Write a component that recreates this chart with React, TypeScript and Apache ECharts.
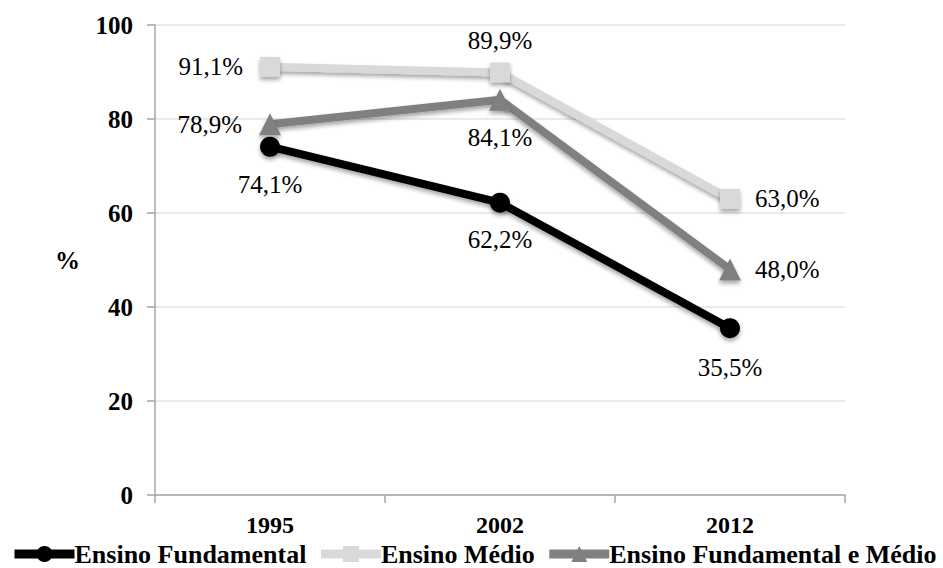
import React, { useEffect, useRef } from "react";
import * as echarts from "echarts";

const years = ["1995", "2002", "2012"];
const fundamental = [74.1, 62.2, 35.5];
const medio = [91.1, 89.9, 63.0];
const fundamentalMedio = [78.9, 84.1, 48.0];

const FONT = "Times New Roman, Liberation Serif, DejaVu Serif, serif";

const fmt = (v: number) => v.toFixed(1).replace(".", ",") + "%";

export default function App() {
  const ref = useRef<HTMLDivElement>(null);

  useEffect(() => {
    if (!ref.current) return;
    const chart = echarts.init(ref.current, null, { renderer: "svg" });

    const labelStyle = { fontFamily: FONT, fontSize: 25, color: "#000" };
    const shadow = {
      shadowColor: "rgba(0,0,0,0.35)",
      shadowBlur: 4,
      shadowOffsetY: 3,
    };

    const mkData = (vals: number[], positions: string[], distances: number[]) =>
      vals.map((v, i) => ({
        value: v,
        label: {
          show: true,
          position: positions[i],
          distance: distances[i],
          formatter: () => fmt(v),
          ...labelStyle,
        },
      }));

    chart.setOption({
      animation: false,
      grid: { left: 155, right: 98, top: 25, bottom: 73 },
      legend: {
        bottom: 1,
        left: 10,
        width: 933,
        padding: 0,
        itemWidth: 60,
        itemHeight: 20,
        itemGap: 10,
        lineStyle: { width: 9 },
        textStyle: {
          fontFamily: FONT,
          fontSize: 26,
          lineHeight: 22,
          fontWeight: "bold",
          color: "#000",
          padding: [0, 0, 0, -5],
        },
        data: ["Ensino Fundamental", "Ensino Médio", "Ensino Fundamental e Médio"],
      },
      xAxis: {
        type: "category",
        data: years,
        boundaryGap: true,
        axisLine: { lineStyle: { color: "#a6a6a6", width: 1.5 } },
        axisTick: { show: true, length: 8, lineStyle: { color: "#a6a6a6", width: 1.5 } },
        axisLabel: {
          margin: 20,
          lineHeight: 20,
          fontFamily: FONT,
          fontSize: 24,
          fontWeight: "bold",
          color: "#000",
        },
      },
      yAxis: {
        type: "value",
        min: 0,
        max: 100,
        interval: 20,
        name: "%",
        nameLocation: "middle",
        nameRotate: 0,
        nameGap: 75,
        nameTextStyle: { fontFamily: FONT, fontSize: 25, fontWeight: "bold", color: "#000" },
        axisLine: { show: true, lineStyle: { color: "#a6a6a6", width: 1.5 } },
        axisTick: { show: true, length: 8, lineStyle: { color: "#a6a6a6", width: 1.5 } },
        splitLine: { lineStyle: { color: "#e3e3e3", width: 1.5 } },
        axisLabel: {
          margin: 22,
          fontFamily: FONT,
          fontSize: 25,
          fontWeight: "bold",
          color: "#000",
        },
      },
      series: [
        {
          name: "Ensino Médio",
          type: "line",
          symbol: "rect",
          symbolSize: 20,
          z: 2,
          itemStyle: { color: "#d9d9d9", ...shadow },
          lineStyle: { color: "#d9d9d9", width: 8, ...shadow },
          data: mkData(medio, ["left", "top", "right"], [17, 9, 15]),
        },
        {
          name: "Ensino Fundamental e Médio",
          type: "line",
          symbol: "triangle",
          symbolSize: 22,
          z: 3,
          itemStyle: { color: "#808080", ...shadow },
          lineStyle: { color: "#808080", width: 8, ...shadow },
          data: mkData(fundamentalMedio, ["left", "bottom", "right"], [17, 14, 14]),
        },
        {
          name: "Ensino Fundamental",
          type: "line",
          symbol: "circle",
          symbolSize: 20,
          z: 4,
          itemStyle: { color: "#000000", ...shadow },
          lineStyle: { color: "#000000", width: 8, ...shadow },
          data: mkData(fundamental, ["bottom", "bottom", "bottom"], [15, 14, 17]),
        },
      ],
    });

    return () => chart.dispose();
  }, []);

  return <div ref={ref} style={{ width: 943, height: 568, position: "absolute", left: 0, top: 0 }} />;
}
